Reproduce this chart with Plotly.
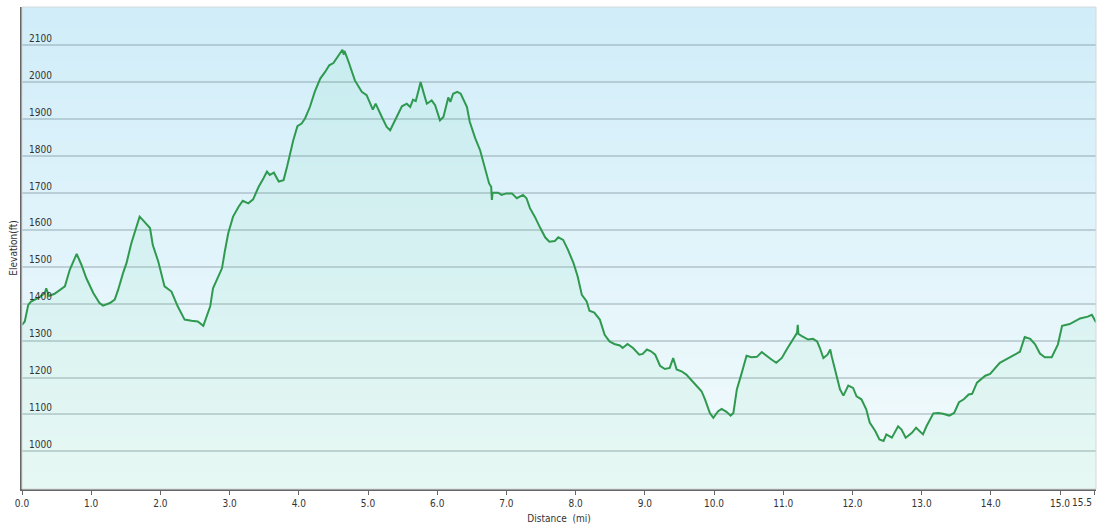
import base64
import struct
import zlib

import plotly.graph_objects as go

# Distance along the route (mi) and elevation (ft)
distance_mi = [
    0.00, 0.04, 0.09, 0.13, 0.23, 0.33, 0.35, 0.39, 0.47, 0.57, 0.62, 0.69, 0.76, 0.79, 0.86, 0.93,
    1.03, 1.12, 1.17, 1.27, 1.34, 1.39, 1.46, 1.51, 1.58, 1.65, 1.70, 1.77, 1.85, 1.89, 1.97,
    2.06, 2.16, 2.25, 2.35, 2.45, 2.54, 2.62, 2.67, 2.72, 2.76, 2.84, 2.89, 2.93, 2.98,
    3.05, 3.13, 3.19, 3.27, 3.34, 3.42, 3.49, 3.54, 3.58, 3.64, 3.71, 3.78, 3.83, 3.87, 3.92, 3.98,
    4.04, 4.09, 4.16, 4.23, 4.31, 4.38, 4.44, 4.50, 4.57, 4.63, 4.65, 4.66, 4.72, 4.81, 4.91, 4.98,
    5.07, 5.11, 5.20, 5.27, 5.32, 5.39, 5.49, 5.56, 5.61, 5.65, 5.69, 5.73, 5.76, 5.80, 5.85, 5.92, 5.97,
    6.04, 6.09, 6.16, 6.19, 6.23, 6.29, 6.34, 6.39, 6.43, 6.47, 6.55, 6.62, 6.69, 6.75, 6.78, 6.79, 6.80, 6.88, 6.93,
    7.00, 7.08, 7.15, 7.24, 7.29, 7.34, 7.41, 7.49, 7.56, 7.62, 7.70, 7.75, 7.82, 7.89, 7.97,
    8.03, 8.09, 8.16, 8.20, 8.27, 8.35, 8.42, 8.49, 8.56, 8.64, 8.68, 8.75, 8.83, 8.92, 8.97,
    9.03, 9.09, 9.15, 9.22, 9.29, 9.36, 9.41, 9.46, 9.53, 9.60, 9.68, 9.75, 9.82, 9.87, 9.94, 9.99,
    10.06, 10.11, 10.18, 10.24, 10.28, 10.33, 10.40, 10.47, 10.54, 10.62, 10.69, 10.76, 10.83, 10.90, 10.98,
    11.05, 11.12, 11.17, 11.20, 11.21, 11.22, 11.27, 11.36, 11.43, 11.49, 11.53, 11.58, 11.64, 11.68, 11.70, 11.76, 11.82, 11.87, 11.94,
    12.01, 12.06, 12.13, 12.20, 12.25, 12.33, 12.39, 12.45, 12.49, 12.57, 12.66, 12.71, 12.77, 12.86, 12.92,
    13.02, 13.07, 13.17, 13.24, 13.31, 13.40, 13.47, 13.54, 13.61, 13.68, 13.73, 13.80, 13.85, 13.92, 13.99,
    14.13, 14.28, 14.42, 14.49, 14.57, 14.64, 14.71, 14.78, 14.88, 14.97,
    15.03, 15.14, 15.29, 15.40, 15.46, 15.52,
]
elevation_ft = [
    1343, 1352, 1397, 1406, 1415, 1429, 1442, 1421, 1427, 1440, 1447, 1492, 1524, 1535, 1505, 1469,
    1429, 1402, 1395, 1402, 1411, 1438, 1483, 1510, 1564, 1609, 1636, 1622, 1605, 1559, 1514,
    1447, 1433, 1393, 1357, 1354, 1352, 1340, 1366, 1393, 1442, 1478, 1496, 1541, 1591,
    1636, 1663, 1679, 1672, 1683, 1717, 1740, 1758, 1749, 1755, 1731, 1735, 1771, 1807, 1843, 1881,
    1888, 1902, 1933, 1974, 2010, 2028, 2046, 2052, 2073, 2088, 2075, 2085, 2055, 2005, 1974, 1965,
    1926, 1942, 1906, 1879, 1870, 1897, 1935, 1942, 1933, 1953, 1949, 1978, 2001, 1974, 1942, 1951, 1938,
    1897, 1906, 1959, 1947, 1969, 1974, 1969, 1947, 1933, 1893, 1848, 1816, 1767, 1726, 1717, 1681, 1701, 1701, 1695,
    1699, 1699, 1686, 1695, 1686, 1659, 1636, 1605, 1580, 1568, 1570, 1580, 1573, 1546, 1510,
    1474, 1424, 1406, 1381, 1376, 1357, 1316, 1298, 1291, 1287, 1280, 1291, 1280, 1262, 1264,
    1276, 1271, 1262, 1232, 1223, 1226, 1253, 1222, 1217, 1208, 1190, 1177, 1163, 1141, 1104, 1091,
    1109, 1115, 1107, 1097, 1104, 1168, 1212, 1259, 1255, 1256, 1269, 1258, 1249, 1240, 1253,
    1276, 1298, 1312, 1321, 1343, 1318, 1312, 1303, 1305, 1298, 1280, 1253, 1262, 1276, 1258, 1212, 1168, 1151, 1178,
    1172, 1149, 1141, 1114, 1078, 1055, 1032, 1028, 1046, 1037, 1068, 1059, 1037, 1050, 1064,
    1046, 1068, 1103, 1104, 1102, 1097, 1104, 1133, 1141, 1154, 1156, 1186, 1195, 1205, 1210,
    1240, 1255, 1270, 1310, 1305, 1290, 1265, 1255, 1255, 1290,
    1340, 1345, 1360, 1365, 1370, 1350,
]

x_tick_vals = [0, 1, 2, 3, 4, 5, 6, 7, 8, 9, 10, 11, 12, 13, 14, 15, 15.5]
x_tick_text = ["0.0", "1.0", "2.0", "3.0", "4.0", "5.0", "6.0", "7.0", "8.0", "9.0",
               "10.0", "11.0", "12.0", "13.0", "14.0", "15.0", ""]
x_end_label = "15.5"   # drawn right-aligned at the last tick so it stays inside the canvas
x_end_tick = 15.5
y_tick_vals = [1000, 1100, 1200, 1300, 1400, 1500, 1600, 1700, 1800, 1900, 2000, 2100]

X_RANGE = [0, 15.52]
Y_RANGE = [898, 2204]

FONT = "DejaVu Sans Condensed, Liberation Sans, DejaVu Sans, sans-serif"
TEXT_COLOR = "#333333"
BG_TOP = (208, 237, 249)
BG_BOTTOM = (243, 251, 252)


def gradient_png(top, bottom, h=256):
    """1-pixel-wide vertical gradient PNG as a data URI."""
    rows = b""
    for i in range(h):
        t = i / (h - 1)
        px = bytes(int(round(a + (b - a) * t)) for a, b in zip(top, bottom))
        rows += b"\x00" + px

    def chunk(tag, data):
        c = struct.pack(">I", len(data)) + tag + data
        return c + struct.pack(">I", zlib.crc32(tag + data) & 0xFFFFFFFF)

    png = b"\x89PNG\r\n\x1a\n"
    png += chunk(b"IHDR", struct.pack(">IIBBBBB", 1, h, 8, 2, 0, 0, 0))
    png += chunk(b"IDAT", zlib.compress(rows))
    png += chunk(b"IEND", b"")
    return "data:image/png;base64," + base64.b64encode(png).decode()


fig = go.Figure()

fig.add_trace(go.Scatter(
    x=distance_mi, y=elevation_ft, mode="lines",
    line=dict(color="#2f9a4f", width=2),
    fill="tozeroy", fillcolor="rgba(60,205,120,0.065)",
    showlegend=False,
))

fig.update_layout(
    width=1100, height=528,
    margin=dict(l=22, r=4, t=7, b=39),
    paper_bgcolor="white", plot_bgcolor="rgba(0,0,0,0)",
    font=dict(family=FONT, size=10, color=TEXT_COLOR),
    images=[dict(source=gradient_png(BG_TOP, BG_BOTTOM), xref="paper", yref="paper",
                 x=0, y=1, sizex=1, sizey=1, xanchor="left", yanchor="top",
                 sizing="stretch", layer="below")],
    xaxis=dict(
        range=X_RANGE, tickvals=x_tick_vals, ticktext=x_tick_text,
        showgrid=False, zeroline=False,
        showline=True, linecolor="#666666", linewidth=2,
        ticks="outside", ticklen=4, tickcolor="#666666", tickwidth=1,
        ticklabeloverflow="allow",
        tickfont=dict(family=FONT, size=10, color=TEXT_COLOR),
        title=dict(text="Distance\u00a0\u00a0(mi)", standoff=7,
                   font=dict(family=FONT, size=10, color=TEXT_COLOR)),
        automargin=False,
    ),
    yaxis=dict(
        range=Y_RANGE, tickvals=y_tick_vals,
        showgrid=True, gridcolor="rgba(110,130,140,0.32)", gridwidth=1.6,
        zeroline=False,
        showline=True, linecolor="#666666", linewidth=2,
        ticks="", ticklabelposition="inside top",
        ticklabelstandoff=5, ticklabeloverflow="allow",
        tickfont=dict(family=FONT, size=10, color=TEXT_COLOR),
        title=dict(text="Elevation(ft)", standoff=10,
                   font=dict(family=FONT, size=10, color=TEXT_COLOR)),
        automargin=False,
    ),
    annotations=[dict(text=x_end_label, xref="x", yref="paper", x=x_end_tick, y=0,
                      xanchor="right", yanchor="top", xshift=-1, yshift=-6,
                      showarrow=False, font=dict(family=FONT, size=10, color=TEXT_COLOR))],
    shapes=[dict(type="rect", xref="paper", yref="paper", x0=0, x1=1, y0=0, y1=1,
                 line=dict(color="#d4d8da", width=1), layer="above")],
)

fig.write_html("out.html", config={"displayModeBar": False},
               post_script="document.body.style.margin='0px';")
